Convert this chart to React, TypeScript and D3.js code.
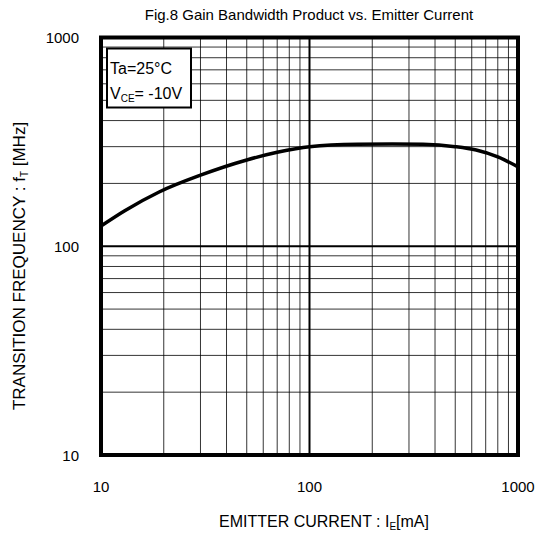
import { useEffect, useRef } from "react";
import * as d3 from "d3";

// emitter current [mA] vs transition frequency [MHz]
const current = [10, 13, 19, 30, 50, 70, 100, 170, 250, 350, 500, 630, 800, 1000];
const freq = [125, 148, 182, 219, 259, 282, 300, 308, 309, 308, 300, 289, 268, 240];

const xTicks = [10, 100, 1000];
const yTicks = [10, 100, 1000];

const W = 548,
  H = 536;
const margin = { top: 37.5, right: 30, bottom: 81, left: 101 };

const App = () => {
  const ref = useRef<SVGSVGElement>(null);

  useEffect(() => {
    if (!ref.current) return;
    const svg = d3.select(ref.current);
    svg.selectAll("*").remove();

    const width = 518 - margin.left,
      height = 455 - margin.top;

    const x = d3.scaleLog().domain([10, 1000]).range([0, width]);
    const y = d3.scaleLog().domain([10, 1000]).range([height, 0]);

    const g = svg
      .append("g")
      .attr("transform", "translate(" + margin.left + "," + margin.top + ")");

    // minor grid
    const minors: number[] = [];
    [10, 100].forEach((d) => {
      for (let k = 2; k <= 9; k++) minors.push(d * k);
    });

    g.append("g")
      .selectAll("line")
      .data(minors)
      .enter()
      .append("line")
      .attr("x1", (d) => x(d))
      .attr("x2", (d) => x(d))
      .attr("y1", 0)
      .attr("y2", height)
      .attr("stroke", "#000")
      .attr("stroke-width", 0.8);

    g.append("g")
      .selectAll("line")
      .data(minors)
      .enter()
      .append("line")
      .attr("y1", (d) => y(d))
      .attr("y2", (d) => y(d))
      .attr("x1", 0)
      .attr("x2", width)
      .attr("stroke", "#000")
      .attr("stroke-width", 0.8);

    // decade lines
    g.append("line")
      .attr("x1", x(100))
      .attr("x2", x(100))
      .attr("y1", 0)
      .attr("y2", height)
      .attr("stroke", "#000")
      .attr("stroke-width", 2);
    g.append("line")
      .attr("y1", y(100))
      .attr("y2", y(100))
      .attr("x1", 0)
      .attr("x2", width)
      .attr("stroke", "#000")
      .attr("stroke-width", 2);

    // curve
    const line = d3
      .line<number>()
      .x((d, i) => x(current[i]))
      .y((d) => y(d))
      .curve(d3.curveMonotoneX);

    g.append("path")
      .datum(freq)
      .attr("d", line)
      .attr("fill", "none")
      .attr("stroke", "#000")
      .attr("stroke-width", 3.5);

    // frame
    g.append("rect")
      .attr("width", width)
      .attr("height", height)
      .attr("fill", "none")
      .attr("stroke", "#000")
      .attr("stroke-width", 4);

    // legend box
    const lfont = "16px 'Liberation Sans', Arial, sans-serif";
    const lg = g.append("g").attr("transform", "translate(6,11)");
    lg.append("rect")
      .attr("width", 84)
      .attr("height", 59)
      .attr("fill", "#fff")
      .attr("stroke", "#000")
      .attr("stroke-width", 2);
    lg.append("text")
      .attr("x", 3)
      .attr("y", 25)
      .style("font", lfont)
      .text("Ta=25°C");
    const t2 = lg
      .append("text")
      .attr("x", 3)
      .attr("y", 50)
      .style("font", lfont);
    t2.append("tspan").text("V");
    t2.append("tspan").attr("font-size", 10).attr("dy", 3).text("CE");
    t2.append("tspan").attr("dy", -3).text("= -10V");

    const tfont = "15px 'Liberation Sans', Arial, sans-serif";
    const font = "16px 'Liberation Sans', Arial, sans-serif";

    // tick labels
    g.selectAll(".xt")
      .data(xTicks)
      .enter()
      .append("text")
      .attr("x", (d) => x(d))
      .attr("y", height + 37)
      .attr("text-anchor", "middle")
      .style("font", tfont)
      .text((d) => d);

    g.selectAll(".yt")
      .data(yTicks)
      .enter()
      .append("text")
      .attr("x", -22)
      .attr("y", (d) => y(d) + 5.5)
      .attr("text-anchor", "end")
      .style("font", tfont)
      .text((d) => d);

    // title
    svg
      .append("text")
      .attr("x", 309)
      .attr("y", 20)
      .attr("text-anchor", "middle")
      .style("font", "15px 'Liberation Sans', Arial, sans-serif")
      .text("Fig.8 Gain Bandwidth Product vs. Emitter Current");

    // x label
    const xl = svg
      .append("text")
      .attr("x", 324)
      .attr("y", 527)
      .attr("text-anchor", "middle")
      .style("font", font);
    xl.append("tspan").text("EMITTER CURRENT : I");
    xl.append("tspan").attr("font-size", 10).attr("dy", 3).text("E");
    xl.append("tspan").attr("dy", -3).text("[mA]");

    // y label
    const yl = svg
      .append("text")
      .attr("transform", "translate(25,266) rotate(-90)")
      .attr("text-anchor", "middle")
      .style("font", "17px 'Liberation Sans', Arial, sans-serif");
    yl.append("tspan").text("TRANSITION FREQUENCY : f");
    yl.append("tspan").attr("font-size", 10).attr("dy", 3).text("T");
    yl.append("tspan").attr("dy", -3).text(" [MHz]");
  }, []);

  return (
    <svg
      ref={ref}
      width={W}
      height={H}
      style={{ position: "absolute", left: 0, top: 0, background: "#fff" }}
    />
  );
};

export default App;
